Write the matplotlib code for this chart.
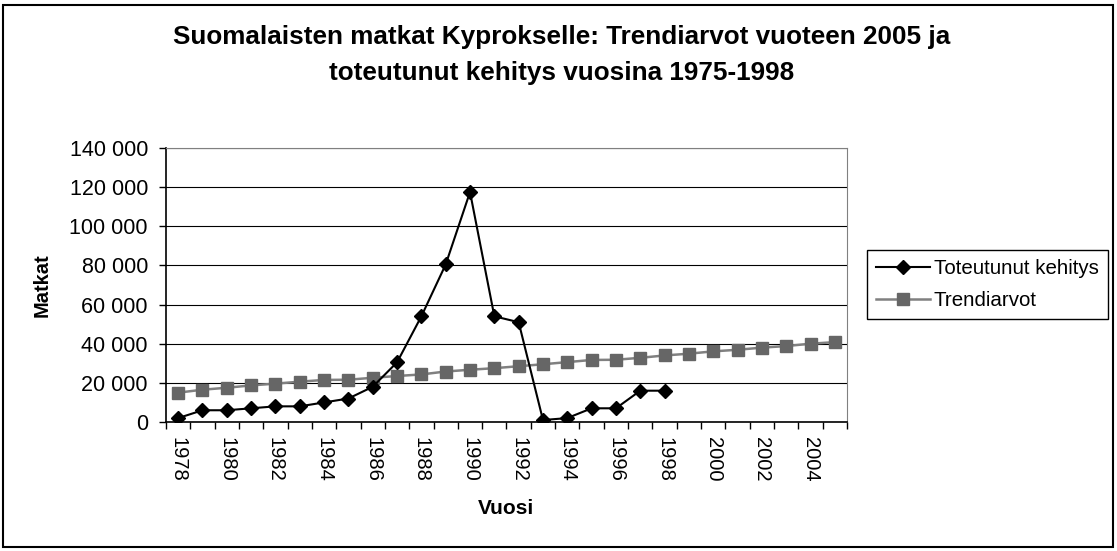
import matplotlib; matplotlib.use("Agg")
import matplotlib.pyplot as plt
from matplotlib.ticker import FuncFormatter, FixedLocator
from matplotlib.patches import Rectangle

plt.rcParams['font.family'] = ['Liberation Sans', 'DejaVu Sans']

# data
vuodet = list(range(1978, 2006))
toteutunut = [2000, 6000, 6000, 7000, 8000, 8000, 10000, 12000, 18000, 30500, 54000, 80500,
              117500, 54000, 51000, 1000, 2000, 7000, 7000, 16000, 16000]
trendi = [15000, 16500, 17500, 18700, 19600, 20600, 21500, 21600, 22600, 23500, 24300, 25800,
          26700, 27500, 28500, 29500, 30600, 31700, 31800, 32800, 34000, 34900, 36100, 36900,
          38000, 38800, 40000, 40800]
otsikko = "Suomalaisten matkat Kyprokselle: Trendiarvot vuoteen 2005 ja\ntoteutunut kehitys vuosina 1975-1998"

fig = plt.figure(figsize=(11.17, 5.51), dpi=100)
ax = fig.add_axes([166/1117, 1-422/551, (847-166)/1117, (422-148)/551])

x_t = list(range(len(toteutunut)))
x_r = list(range(len(trendi)))
ax.plot(x_t, toteutunut, color="black", lw=1.5, marker="D", ms=7.5, mfc="black", mec="black",
        label="Toteutunut kehitys", zorder=4)
ax.plot(x_r, trendi, color="#808080", lw=1.8, marker="s", ms=8, mfc="#666666", mec="#666666",
        label="Trendiarvot", zorder=3)

ax.set_xlim(-0.5, len(vuodet)-0.5)
ax.set_ylim(0, 140000)
ax.set_yticks(range(0, 140001, 20000))
ax.yaxis.set_major_formatter(FuncFormatter(lambda v, p: f"{int(v):,}".replace(",", " ")))
ax.grid(axis="y", color="black", lw=0.8)
ax.set_axisbelow(True)

ax.set_xticks(x_r[::2])
ax.set_xticklabels([str(v) for v in vuodet[::2]], rotation=270, fontsize=14.5)
ax.xaxis.set_minor_locator(FixedLocator([i-0.5 for i in range(len(vuodet)+1)]))
ax.tick_params(axis="x", which="major", length=0, pad=11)
ax.tick_params(axis="x", which="minor", length=5, direction="out", width=1)
ax.tick_params(axis="y", labelsize=15.5, length=5, width=1, pad=8)

for s in ("top", "right"):
    ax.spines[s].set_color("#808080")
for s in ("left", "bottom"):
    ax.spines[s].set_color("black")
    ax.spines[s].set_linewidth(1.2)

fig.text(0.503, 1-55/551, otsikko, ha="center", va="center", fontsize=18.8, fontweight="bold", linespacing=1.6)
fig.text(506/1117, 1-508/551, "Vuosi", ha="center", va="center", fontsize=15, fontweight="bold")
fig.text(42/1117, 1-285/551, "Matkat", ha="center", va="center", fontsize=14.5, fontweight="bold", rotation=90)

leg = fig.legend(loc="center left", bbox_to_anchor=(867/1117, 1-284.5/551), fontsize=14.8,
                 fancybox=False, edgecolor="black", framealpha=1, handlelength=2.6,
                 borderpad=0.45, labelspacing=0.65, handletextpad=0.2, borderaxespad=0)
leg.get_frame().set_linewidth(1)

fig.patches.append(Rectangle((3/1117, 4/551), 1110/1117, 542/551, transform=fig.transFigure,
                             fill=False, edgecolor="black", lw=1.5))

fig.savefig("out.png", dpi=100)
